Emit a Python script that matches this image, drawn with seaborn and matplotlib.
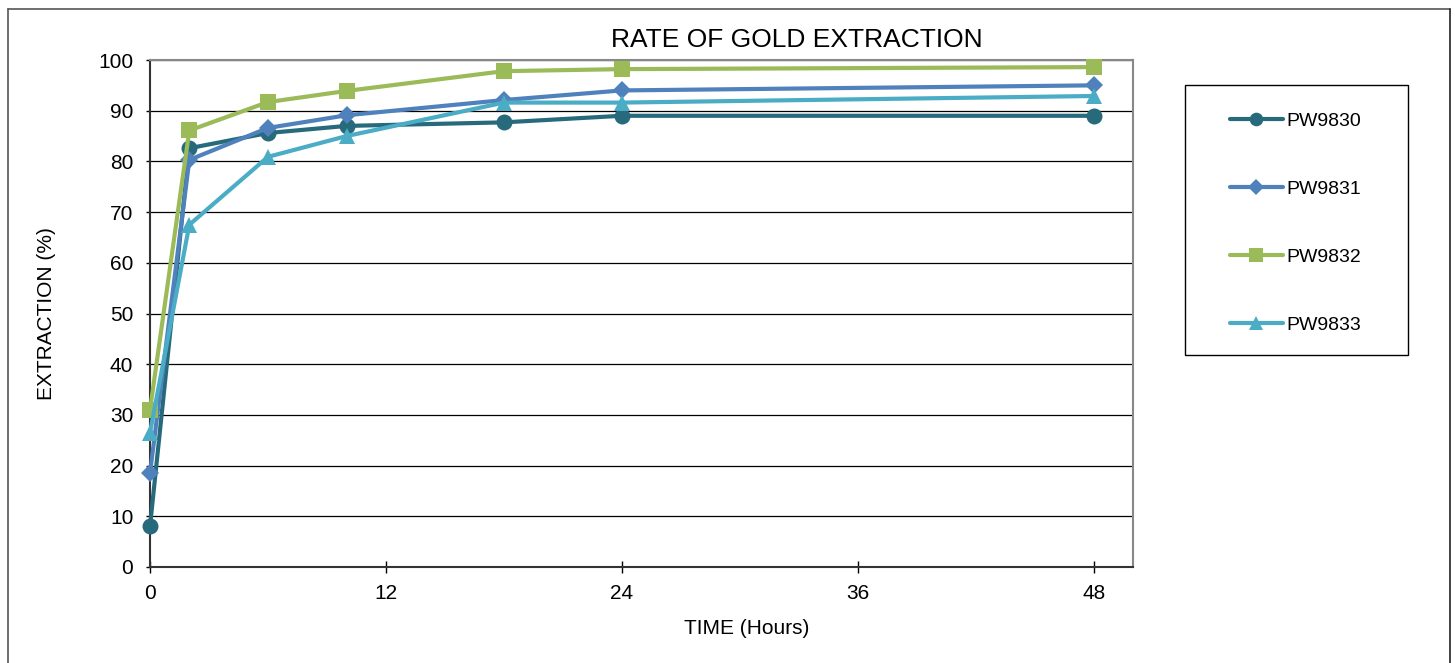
import matplotlib
matplotlib.use('Agg')
import matplotlib.pyplot as plt
import matplotlib.lines as mlines
import matplotlib.patches as patches
import pandas as pd
import seaborn as sns

# data
hours = [0, 2, 6, 10, 18, 24, 48]
pw9830 = [8.0, 82.6, 85.6, 87.0, 87.7, 89.0, 89.0]
pw9831 = [18.5, 80.3, 86.6, 89.1, 92.1, 94.0, 95.0]
pw9832 = [31.0, 86.1, 91.7, 93.9, 97.8, 98.2, 98.6]
pw9833 = [26.5, 67.5, 80.9, 85.0, 91.6, 91.6, 92.9]
series_names = ["PW9830", "PW9831", "PW9832", "PW9833"]

colors = {"PW9830": "#276A7C", "PW9831": "#4F81BD", "PW9832": "#9BBB59", "PW9833": "#4BACC6"}
markers = {"PW9830": "o", "PW9831": "D", "PW9832": "s", "PW9833": "^"}
msizes = {"PW9830": 11.5, "PW9831": 9.5, "PW9832": 12, "PW9833": 12}

df = pd.DataFrame({
    "hours": hours * 4,
    "extraction": pw9830 + pw9831 + pw9832 + pw9833,
    "sample": sum([[n] * len(hours) for n in series_names], []),
})

sns.set_style("white")
plt.rcParams['font.family'] = ['Liberation Sans', 'DejaVu Sans']
for k in ["text.color", "axes.labelcolor", "xtick.color", "ytick.color"]:
    plt.rcParams[k] = "black"

fig = plt.figure(figsize=(14.55, 6.63), dpi=100)
ax = fig.add_axes([150 / 1455, 1 - 567 / 663, (1133 - 150) / 1455, (567 - 60) / 663])

for name in series_names:
    sub = df[df["sample"] == name]
    sns.lineplot(data=sub, x="hours", y="extraction", ax=ax, color=colors[name],
                 marker=markers[name], markersize=msizes[name], markeredgewidth=0,
                 linewidth=3, legend=False, zorder=3, clip_on=False)

ax.set_xlim(0, 50)
ax.set_ylim(0, 100)
ax.set_xticks([0, 12, 24, 36, 48])
ax.set_yticks(range(0, 101, 10))
ax.yaxis.grid(True, color="black", linewidth=0.9)
ax.set_axisbelow(True)
ax.tick_params(axis="x", direction="inout", length=9, width=1, labelsize=15, pad=8, bottom=True)
ax.tick_params(axis="y", direction="out", length=3, width=1, labelsize=15, pad=9, left=True)
for s in ["left", "bottom"]:
    ax.spines[s].set_color("#333333")
    ax.spines[s].set_linewidth(1.5)
for s in ["top", "right"]:
    ax.spines[s].set_color("#888888")
    ax.spines[s].set_linewidth(1.5)

ax.set_xlabel("TIME (Hours)", fontsize=15)
ax.set_ylabel("EXTRACTION (%)", fontsize=15)
ax.xaxis.set_label_coords((747 - 150) / 983, -0.102)
ax.yaxis.set_label_coords((56 - 150) / 983, 0.5)

fig.text(797 / 1455, 1 - 40 / 663, "RATE OF GOLD EXTRACTION", ha="center", va="center", fontsize=19)

# legend box drawn separately, entries placed inside it
fig.add_artist(patches.Rectangle((1185 / 1455, 1 - 355 / 663), (1408 - 1185) / 1455, (355 - 85) / 663,
                                 transform=fig.transFigure, fill=False, edgecolor="black", linewidth=1))
handles = [mlines.Line2D([], [], color=colors[n], marker=markers[n], markersize=msizes[n] * 0.85,
                         markeredgewidth=0, linewidth=3) for n in series_names]
leg = fig.legend(handles, series_names, loc="upper left",
                 bbox_to_anchor=(1230 / 1455, 1 - 112 / 663), fontsize=14,
                 frameon=False, handlelength=2.7, labelspacing=2.6,
                 borderpad=0, borderaxespad=0, handletextpad=0.2)

# outer chart frame
fig.add_artist(mlines.Line2D([8 / 1455, 1450 / 1455], [1 - 9 / 663] * 2, color="#555555", linewidth=1.2))
fig.add_artist(mlines.Line2D([8 / 1455] * 2, [0, 1 - 9 / 663], color="#555555", linewidth=1.2))
fig.add_artist(mlines.Line2D([1450 / 1455] * 2, [0, 1 - 9 / 663], color="#222222", linewidth=1.2))

fig.savefig("out.png", dpi=100)
